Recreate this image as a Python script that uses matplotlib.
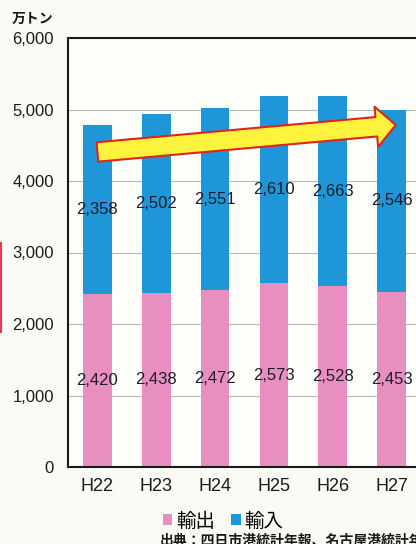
import numpy as np
import matplotlib.pyplot as plt
from matplotlib.patches import FancyArrowPatch
from matplotlib.lines import Line2D

years = ['H22', 'H23', 'H24', 'H25', 'H26', 'H27']
export_vals = [2420, 2438, 2472, 2573, 2528, 2453]
import_vals = [2358, 2502, 2551, 2610, 2663, 2546]

pink = '#e98fc0'
blue = '#1f96d7'
jp = ['Noto Sans CJK JP', 'DejaVu Sans']

fig = plt.figure(figsize=(4.16, 5.44), dpi=100, facecolor='#fbfbf5')
ax = fig.add_axes([68/416, 1-467/544, (421-68)/416, (467-38)/544])
ax.set_facecolor('#fdfdfa')

x = np.arange(len(years))
ax.bar(x, export_vals, width=0.49, color=pink, label='輸出', zorder=2)
ax.bar(x, import_vals, width=0.49, bottom=export_vals, color=blue, label='輸入', zorder=2)

for i in range(len(years)):
    ax.text(x[i], export_vals[i]/2, f'{export_vals[i]:,}', ha='center', va='center',
            fontsize=12, family='Liberation Sans', color='#1c1c2c', zorder=4)
    ax.text(x[i], export_vals[i] + import_vals[i]/2, f'{import_vals[i]:,}', ha='center', va='center',
            fontsize=12, family='Liberation Sans', color='#1c1c2c', zorder=4)

# trend arrow
arr = FancyArrowPatch((0.0, 4406), (5.07, 4783),
                      arrowstyle='simple,head_length=14,head_width=29,tail_width=14',
                      mutation_scale=1, shrinkA=0, shrinkB=0,
                      facecolor='#fdf33c', edgecolor='#e2231a', lw=1.5, zorder=3)
ax.add_patch(arr)

ax.set_xlim(-0.5, 5.5)
ax.set_ylim(0, 6000)
ax.set_yticks(range(0, 6001, 1000))
ax.set_yticklabels([f'{v:,}' for v in range(0, 6001, 1000)], family='Liberation Sans', fontsize=12)
ax.set_xticks(x)
ax.set_xticklabels(years, family='Liberation Sans', fontsize=13)
ax.tick_params(axis='y', length=0, pad=10, colors='#1a1a1a')
ax.tick_params(axis='x', length=0, pad=8, colors='#1a1a1a')
ax.yaxis.grid(True, color='#b8b8b8', lw=0.8, zorder=1)
ax.set_axisbelow(True)
for s in ['left', 'top', 'bottom']:
    ax.spines[s].set_linewidth(1.5)
    ax.spines[s].set_color('#1a1a1a')

fig.text(12/416, 1-19/544, '万トン', family=jp, fontsize=10, weight='bold', va='center', color='#1a1a1a')

leg = fig.legend(loc='center', bbox_to_anchor=(223/416, 1-521/544), ncol=2, frameon=False,
                 prop={'family': jp, 'size': 14}, handlelength=0.5, handleheight=0.5,
                 handletextpad=0.2, columnspacing=0.8)

fig.text(160/416, 1-541/544, '出典：四日市港統計年報、名古屋港統計年報', family=jp, fontsize=10,
         weight='bold', va='center', color='#1a1a1a')

fig.add_artist(Line2D([0.003, 0.003], [1-243/544, 1-332/544], color='#e8385a', lw=1.5))

fig.savefig('out.png', dpi=100, facecolor=fig.get_facecolor())
